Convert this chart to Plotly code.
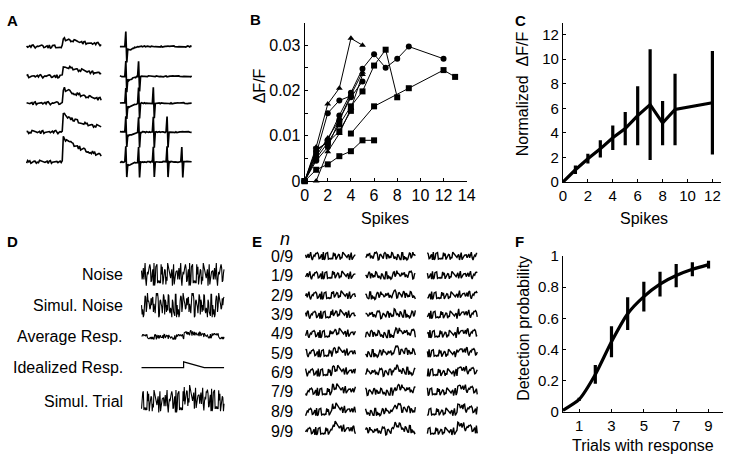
import plotly.graph_objects as go

# ---------------- data ----------------
# hand-typed noise samples used for the illustrative traces (A, D, E)
noise = [0.3, -0.5, 0.8, -0.2, -0.9, 0.6, 0.1, -0.4, 0.9, -0.7, 0.2, 0.5, -0.8, 0.4, -0.1,
         0.7, -0.6, 0.0, 0.8, -0.3, -0.9, 0.5, 0.3, -0.5, 0.6, -0.8, 0.1, 0.9, -0.4, 0.2,
         -0.7, 0.6, -0.2, 0.4, -0.9, 0.7, 0.0, -0.5, 0.8, -0.1, 0.3, -0.6, 0.9, -0.3, -0.7,
         0.5, 0.2, -0.8, 0.6, -0.4, 0.1, 0.8, -0.6, 0.3, -0.2, 0.7, -0.9, 0.4, 0.0, -0.5]
# calcium transient shape (fraction of peak)
kernel = [1.0, 0.93, 0.86, 0.8, 0.74, 0.69, 0.64, 0.6, 0.56, 0.52, 0.48, 0.45, 0.42, 0.39,
          0.36, 0.34, 0.32, 0.3, 0.28, 0.26, 0.24, 0.22, 0.21, 0.2, 0.19, 0.18, 0.17, 0.16,
          0.15, 0.14]

# A: transient amplitudes (px) and spike times (samples)
a_amps = [8, 11, 15, 18, 25]
a_spike_samples = [6, 19, 34, 48, 63]
a_dip = [3, 4, 3.5, 3, 2.5, 2, 1.6, 1.2, 0.9, 0.6, 0.4, 0.2]

# B: dF/F vs spikes, individual cells
b_x = [
    [0, 1, 2, 3, 4, 5],
    [0, 1, 2, 3, 4],
    [0, 1, 2, 3, 4, 5, 6, 7, 8, 9, 12],
    [0, 1, 2, 3, 4, 5, 6, 7, 8],
    [4, 6, 9, 12, 13],
    [0, 1, 2, 3, 4, 5, 6],
    [1, 2, 3, 4, 5],
    [0, 1, 2, 3, 4, 5],
    [0, 1, 2, 3, 4, 5],
    [0, 1, 2, 3, 4],
]
b_y = [
    [0, 0.0075, 0.017, 0.0205, 0.0315, 0.030],
    [0, 0.006, 0.015, 0.0178, 0.0188],
    [0, 0.0065, 0.009, 0.0145, 0.0195, 0.0248, 0.028, 0.025, 0.027, 0.0297, 0.027],
    [0, 0.005, 0.0085, 0.0125, 0.0165, 0.0198, 0.0255, 0.029, 0.0185],
    [0.0105, 0.0165, 0.0205, 0.0245, 0.023],
    [0, 0.0025, 0.0037, 0.0055, 0.0066, 0.009, 0.009],
    [0, 0.0065, 0.0105, 0.016, 0.0235],
    [0, 0.0045, 0.0075, 0.0135, 0.0185, 0.022],
    [0, 0.0055, 0.0095, 0.0135, 0.019, 0.024],
    [0, 0.007, 0.0085, 0.011, 0.0155],
]
b_symbols = ["triangle-up", "circle", "circle", "square", "square", "square",
             "triangle-up", "circle", "triangle-up", "square"]

# C: normalized dF/F
c_x = [0, 1, 2, 3, 4, 5, 6, 7, 8, 9, 12]
c_y = [0, 1.0, 1.9, 2.7, 3.6, 4.35, 5.4, 6.3, 4.8, 5.9, 6.45]
c_err = [0, 0.35, 0.4, 0.7, 1.0, 1.35, 2.4, 4.5, 1.8, 2.9, 4.2]

# D
d_labels = ["Noise", "Simul. Noise", "Average Resp.", "Idealized Resp.", "Simul. Trial"]
ideal_t = [0, 0.51, 0.51, 0.76, 1.0]
ideal_v = [0, 0, 1, 0, 0]

# E
e_labels = ["0/9", "1/9", "2/9", "3/9", "4/9", "5/9", "6/9", "7/9", "8/9", "9/9"]

# F: detection probability
f_x = [0, 1, 2, 3, 4, 5, 6, 7, 8, 9]
f_y = [0.01, 0.08, 0.24, 0.45, 0.63, 0.74, 0.82, 0.875, 0.915, 0.945]
f_err = [0, 0.01, 0.06, 0.1, 0.105, 0.095, 0.08, 0.075, 0.045, 0.025]

FONT = "Liberation Sans, Arial, sans-serif"


def noisy(n, offset, step):
    return [noise[(offset + k * step) % len(noise)] for k in range(n)]


def add_kernel(vals, start, amp, stretch=1):
    out = list(vals)
    for i in range(len(kernel) * stretch):
        if start + i < len(out):
            out[start + i] += amp * kernel[i // stretch]
    return out


fig = go.Figure()
OV = dict(xaxis="x4", yaxis="y4", mode="lines", showlegend=False, hoverinfo="skip")

# ---------------- A ----------------
a_rows = [39, 70, 98, 128, 159]
for r, y0 in enumerate(a_rows):
    v = [1.8 * s for s in noisy(70, r * 11, 7)]
    v = add_kernel(v, 34, a_amps[r], 2)
    fig.add_trace(go.Scatter(x=[23 + 1.1 * i for i in range(70)], y=[y0 - s for s in v],
                             line=dict(color="black", width=1.6), **OV))
    w = [0.6 * s for s in noisy(74, r * 5 + 3, 11)]
    for j in range(r + 1):
        s0 = a_spike_samples[j]
        w[s0] += 16
        w[s0 + 1] -= 16
    for i, d in enumerate(a_dip):
        w[a_spike_samples[0] + 2 + i] -= d
    fig.add_trace(go.Scatter(x=[118 + i for i in range(74)], y=[y0 - s for s in w],
                             line=dict(color="black", width=1.7), **OV))

# ---------------- D ----------------
d_rows = [276, 308, 341, 373, 408]
nD = 140
dx = 84 / (nD - 1)
d_vals = [
    [13 * s for s in noisy(nD, 0, 7)],
    [14 * s for s in noisy(nD, 17, 13)],
    add_kernel([3 * s for s in noisy(nD, 29, 11)], 72, 6, 2),
    None,
    add_kernel([13 * s for s in noisy(nD, 41, 7)], 72, 7, 2),
]
for r, y0 in enumerate(d_rows):
    if d_vals[r] is None:
        fig.add_trace(go.Scatter(x=[140 + 84 * t for t in ideal_t], y=[y0 - 6 * v for v in ideal_v],
                                 line=dict(color="black", width=1.2), **OV))
    else:
        fig.add_trace(go.Scatter(x=[140 + dx * i for i in range(nD)], y=[y0 - s for s in d_vals[r]],
                                 line=dict(color="black", width=1.1), **OV))
    fig.add_annotation(x=123, y=y0, xref="x4", yref="y4", text=d_labels[r], showarrow=False,
                       xanchor="right", yanchor="middle", font=dict(family=FONT, size=16, color="black"))

# ---------------- E ----------------
e_rows = [257, 277, 298, 318, 338, 358, 378, 398, 419, 439]
e_cols = [307, 368, 431]
nE = 60
for r, y0 in enumerate(e_rows):
    for c, x0 in enumerate(e_cols):
        v = [4.5 * s for s in noisy(nE, r * 7 + c * 19, 7 + 6 * (c % 2))]
        v = add_kernel(v, 32 + 2 * c, 8 * r / 9)
        fig.add_trace(go.Scatter(x=[x0 + 0.86 * i for i in range(nE)], y=[y0 - s for s in v],
                                 line=dict(color="black", width=1.4), **OV))
    fig.add_annotation(x=283, y=y0, xref="x4", yref="y4", text=e_labels[r], showarrow=False,
                       xanchor="center", yanchor="middle", font=dict(family=FONT, size=16, color="black"))

# ---------------- B ----------------
for xs, ys, sym in zip(b_x, b_y, b_symbols):
    fig.add_trace(go.Scatter(x=xs, y=ys, mode="lines+markers", xaxis="x", yaxis="y",
                             line=dict(color="black", width=1),
                             marker=dict(symbol=sym, size=6, color="black"),
                             showlegend=False, cliponaxis=False))

# ---------------- C ----------------
fig.add_trace(go.Scatter(x=c_x, y=c_y, mode="lines", xaxis="x2", yaxis="y2",
                         line=dict(color="black", width=3.2),
                         error_y=dict(type="data", array=c_err, color="black", thickness=3.2, width=0),
                         showlegend=False, cliponaxis=False))

# ---------------- F ----------------
fig.add_trace(go.Scatter(x=f_x, y=f_y, mode="lines", xaxis="x3", yaxis="y3",
                         line=dict(color="black", width=3.2, shape="spline", smoothing=0.6),
                         error_y=dict(type="data", array=f_err, color="black", thickness=3.2, width=0),
                         showlegend=False, cliponaxis=False))


def px_dom(a, b, total):
    return [a / total, b / total]


W, H = 737, 467
axis_common = dict(showline=True, linecolor="black", linewidth=1, showgrid=False, zeroline=False,
                   ticks="inside", ticklen=3, tickcolor="black")
f16 = dict(family=FONT, size=16, color="black")
f15 = dict(family=FONT, size=15, color="black")

b_yt = [0, 0.005, 0.01, 0.015, 0.02, 0.025, 0.03]
fig.update_layout(
    width=W, height=H, margin=dict(l=0, r=0, t=0, b=0),
    paper_bgcolor="white", plot_bgcolor="rgba(0,0,0,0)",
    font=dict(family=FONT, color="black"),
    xaxis=dict(domain=px_dom(306, 471, W), range=[0, 14], anchor="y", tickfont=f16,
               tickvals=list(range(0, 15, 2)), **axis_common),
    yaxis=dict(domain=[1 - 179 / H, 1 - 15 / H], range=[0, 0.0348], anchor="x", tickfont=f16,
               tickvals=b_yt, ticktext=["0", "", "0.01", "", "0.02", "", "0.03"], **axis_common),
    xaxis2=dict(domain=px_dom(569, 730, W), range=[0, 12.7], anchor="y2", tickfont=f15,
                tickvals=list(range(0, 13, 2)), **axis_common),
    yaxis2=dict(domain=[1 - 180 / H, 1 - 15 / H], range=[0, 12.9], anchor="x2", tickfont=f15,
                tickvals=list(range(0, 13, 2)), **axis_common),
    xaxis3=dict(domain=px_dom(569, 732, W), range=[0, 9.9], anchor="y3", tickfont=f15,
                tickvals=[1, 3, 5, 7, 9], **axis_common),
    yaxis3=dict(domain=[1 - 419 / H, 1 - 257 / H], range=[0, 1.0], anchor="x3", tickfont=f15,
                tickvals=[0, 0.2, 0.4, 0.6, 0.8, 1], ticktext=["0", "0.2", "0.4", "0.6", "0.8", "1"],
                **axis_common),
    xaxis4=dict(domain=[0, 1], range=[0, W], anchor="y4", visible=False, fixedrange=True),
    yaxis4=dict(domain=[0, 1], range=[H, 0], anchor="x4", visible=False, fixedrange=True),
)

# axis titles and panel letters
texts = [
    ("ΔF/F", 261, 80, -90, 16),
    ("Spikes", 388, 218, 0, 16),
    ("Normalized  ΔF/F", 528, 88, -90, 16),
    ("Spikes", 651, 218, 0, 16),
    ("Detection probability", 529, 332, -90, 16),
    ("Trials with response", 650, 454, 0, 16),
    ("<b>A</b>", 9, 12, 0, 15),
    ("<b>B</b>", 256, 11, 0, 15),
    ("<b>C</b>", 526, 12, 0, 15),
    ("<b>D</b>", 9, 242, 0, 15),
    ("<b>E</b>", 258, 242, 0, 15),
    ("<b>F</b>", 525, 242, 0, 15),
    ("<i>n</i>", 286, 239, 0, 18),
]
for t, x, y, ang, sz in texts:
    fig.add_annotation(x=x, y=y, xref="x4", yref="y4", text=t, textangle=ang, showarrow=False,
                       xanchor="center", yanchor="middle", font=dict(family=FONT, size=sz, color="black"))

fig.write_html("out.html", config={"displayModeBar": False},
               post_script="document.body.style.margin='0';document.body.style.overflow='hidden';")
